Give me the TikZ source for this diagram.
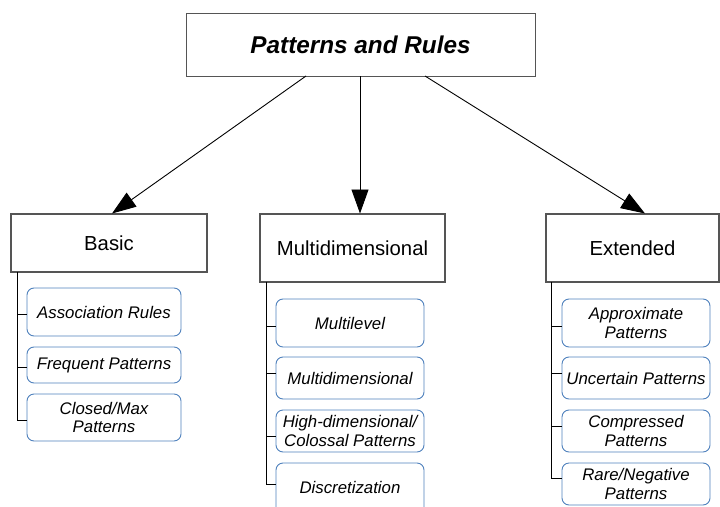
\documentclass[tikz,border=0pt]{standalone}
\usepackage{fontspec}
\setmainfont{Liberation Sans}
\usetikzlibrary{arrows.meta}
\definecolor{leafblue}{RGB}{79,129,189}
\definecolor{boxgray}{RGB}{85,85,85}
\begin{document}
\begin{tikzpicture}[x=1pt,y=-1pt,
  rootbox/.style={draw=boxgray,line width=1pt,fill=white},
  groupbox/.style={draw=boxgray,line width=1.1pt,fill=white},
  leafbox/.style={draw=leafblue,line width=0.9pt,rounded corners=7pt,fill=white},
  leaftext/.style={font=\fontsize{16.8}{18.5}\selectfont\itshape,align=center},
  grouptext/.style={font=\fontsize{20.3}{22}\selectfont},
  trunk/.style={draw=black,line width=0.9pt},
  branch/.style={draw=black,line width=0.9pt,-{Triangle[length=24pt,width=17pt]}}]
\useasboundingbox (0,0) rectangle (720,506);
\clip (0,0) rectangle (720,506);

% root
\draw[rootbox] (186,13) rectangle (535,76);
\node[font=\fontsize{24.3}{26}\selectfont\bfseries\itshape] (root) at (360.5,44.5) {Patterns and Rules};
\coordinate (rootL) at (306,76);
\coordinate (rootM) at (360,76);
\coordinate (rootR) at (425,76);

% category boxes
\draw[groupbox] (11,214) rectangle (207,272);
\node[grouptext] (basic) at (109,243) {Basic};
\coordinate (basicTop) at (112,213.5);

\draw[groupbox] (260,214) rectangle (445,282);
\node[grouptext] (multi) at (352.5,248) {Multidimensional};
\coordinate (multiTop) at (360,213.5);

\draw[groupbox] (546,214) rectangle (719,282);
\node[grouptext] (ext) at (632.5,248) {Extended};
\coordinate (extTop) at (645,213.5);

% arrows from the root
\draw[branch] (rootL) -- (basicTop);
\draw[branch] (rootM) -- (multiTop);
\draw[branch] (rootR) -- (extTop);

% Basic column
\coordinate (bT) at (17,272);
\coordinate (b1) at (17,314);
\coordinate (b2) at (17,367);
\coordinate (b3) at (17,420);
\draw[trunk] (bT) -- (b3);
\foreach \t/\b in {288/336,347/383,394/441}{
  \draw[leafbox] (27,\t) rectangle (181,\b);
}
\node[leaftext] (ba) at (104,312) {Association Rules};
\node[leaftext] (bb) at (104,365) {Frequent Patterns};
\node[leaftext] (bc) at (104,417.5) {Closed/Max\\Patterns};
\draw[trunk] (b1) -- (27,314);
\draw[trunk] (b2) -- (27,367);
\draw[trunk] (b3) -- (27,420);

% Multidimensional column
\coordinate (mT) at (266,282);
\coordinate (m1) at (266,326);
\coordinate (m2) at (266,373);
\coordinate (m3) at (266,436);
\coordinate (m4) at (266,484);
\draw[trunk] (mT) -- (m4);
\foreach \t/\b in {299/347,357/399,410/452,463/514}{
  \draw[leafbox] (276,\t) rectangle (424,\b);
}
\node[leaftext] (ma) at (350,323) {Multilevel};
\node[leaftext] (mb) at (350,378) {Multidimensional};
\node[leaftext] (mc) at (350,431) {High-dimensional/\\Colossal Patterns};
\node[leaftext] (md) at (350,487) {Discretization};
\draw[trunk] (m1) -- (276,326);
\draw[trunk] (m2) -- (276,373);
\draw[trunk] (m3) -- (276,436);
\draw[trunk] (m4) -- (276,484);

% Extended column
\coordinate (eT) at (551,282);
\coordinate (e1) at (551,326);
\coordinate (e2) at (551,373);
\coordinate (e3) at (551,426);
\coordinate (e4) at (551,478);
\draw[trunk] (eT) -- (e4);
\foreach \t/\b in {299/347,357/399,410/452,463/505}{
  \draw[leafbox] (562,\t) rectangle (710,\b);
}
\node[leaftext] (ea) at (636,323) {Approximate\\Patterns};
\node[leaftext] (eb) at (636,378) {Uncertain Patterns};
\node[leaftext] (ec) at (636,431) {Compressed\\Patterns};
\node[leaftext] (ed) at (636,484) {Rare/Negative\\Patterns};
\draw[trunk] (e1) -- (562,326);
\draw[trunk] (e2) -- (562,373);
\draw[trunk] (e3) -- (562,426);
\draw[trunk] (e4) -- (562,478);
\end{tikzpicture}
\end{document}
